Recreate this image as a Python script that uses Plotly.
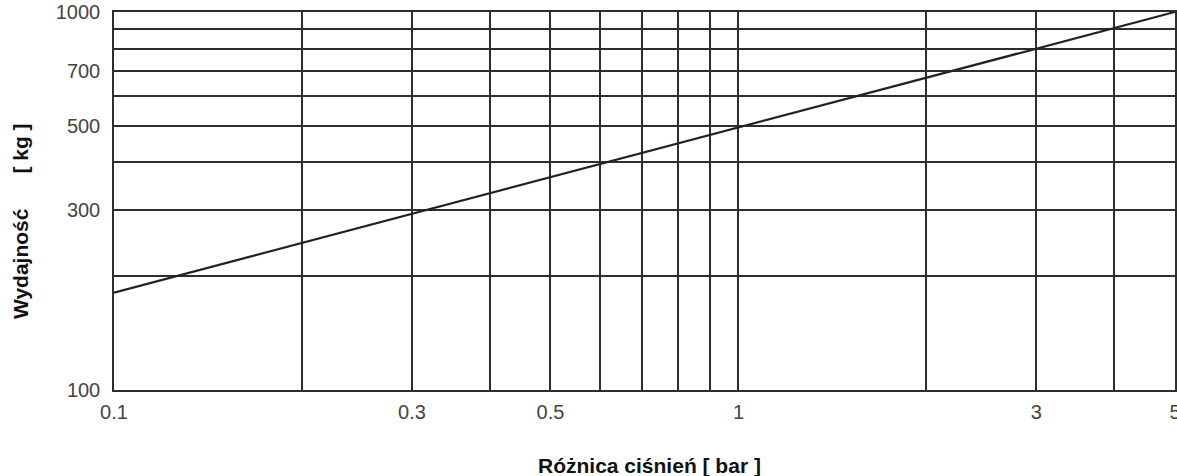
import math
import plotly.graph_objects as go

# Data
pressure_bar = [0.1, 1, 5]
capacity_kg = [181, 495, 1000]

x_tick_vals = [0.1, 0.3, 0.5, 1, 3, 5]
x_tick_text = ["0.1", "0.3", "0.5", "1", "3", "5"]
x_minor_grid = [0.2, 0.4, 0.6, 0.7, 0.8, 0.9, 2, 4]

y_tick_vals = [100, 300, 500, 700, 1000]
y_tick_text = ["100", "300", "500", "700", "1000"]
y_minor_grid = [200, 400, 600, 800, 900]

x_title = "Różnica ciśnień [ bar ]"
y_title = "Wydajność" + "\u00a0" * 6 + "[ kg ]"

GRID = "#2e2e2e"
TICKFONT = dict(family="Liberation Sans, Arial, sans-serif", size=20, color="#444444")
TITLEFONT = dict(family="Liberation Sans, Arial, sans-serif", size=21, color="#111111")

fig = go.Figure()
fig.add_trace(go.Scatter(
    x=pressure_bar, y=capacity_kg, mode="lines",
    line=dict(color="#222222", width=2.2), showlegend=False, hoverinfo="x+y",
))

fig.update_xaxes(
    type="log", range=[-1, math.log10(5.001)],
    tickmode="array", tickvals=x_tick_vals, ticktext=x_tick_text,
    showgrid=True, gridcolor=GRID, gridwidth=1.5,
    minor=dict(tickmode="array", tickvals=x_minor_grid, showgrid=True,
               gridcolor=GRID, gridwidth=1.5, ticks=""),
    showline=True, linecolor=GRID, linewidth=1.5, mirror=True,
    ticks="", tickfont=TICKFONT, zeroline=False, ticklabelstandoff=3,
    ticklabeloverflow="allow", automargin=False,
)
fig.update_yaxes(
    type="log", range=[2, 3],
    tickmode="array", tickvals=y_tick_vals, ticktext=y_tick_text,
    showgrid=True, gridcolor=GRID, gridwidth=1.5,
    minor=dict(tickmode="array", tickvals=y_minor_grid, showgrid=True,
               gridcolor=GRID, gridwidth=1.5, ticks=""),
    showline=True, linecolor=GRID, linewidth=1.5, mirror=True,
    ticks="", tickfont=TICKFONT, zeroline=False, ticklabelstandoff=8,
    ticklabeloverflow="allow", automargin=False,
)

fig.update_layout(
    width=1177, height=476,
    margin=dict(l=114, r=2, t=12, b=86),
    paper_bgcolor="white", plot_bgcolor="white",
    annotations=[
        dict(text="<b>" + x_title + "</b>", xref="paper", yref="paper",
             x=0.505, y=-0.201, showarrow=False, font=TITLEFONT,
             xanchor="center", yanchor="middle"),
        dict(text="<b>" + y_title + "</b>", xref="paper", yref="paper",
             x=-0.0886, y=0.447, showarrow=False, font=TITLEFONT,
             textangle=-90, xanchor="center", yanchor="middle"),
    ],
)

fig.write_html("out.html")
